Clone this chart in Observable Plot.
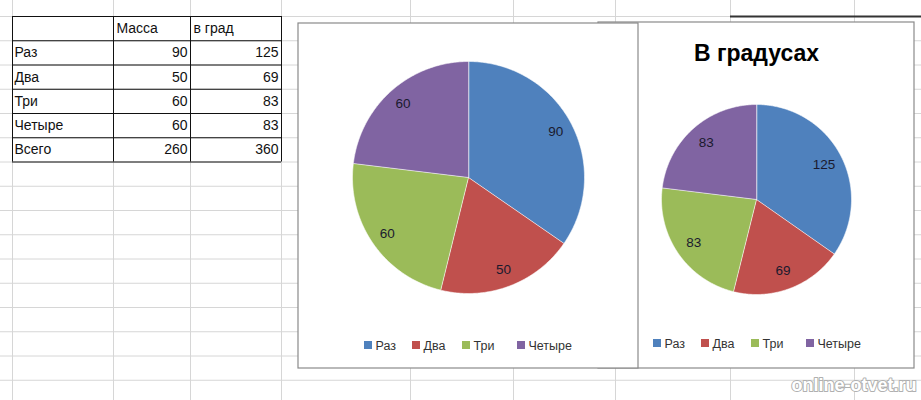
<!DOCTYPE html>
<html>
<head>
<meta charset="utf-8">
<script src="https://cdn.jsdelivr.net/npm/d3@7"></script>
<script src="https://cdn.jsdelivr.net/npm/@observablehq/plot@0.6"></script>
<style>
  html, body { margin: 0; padding: 0; background: #fff; }
  #chart svg { display: block; }
</style>
</head>
<body>
<div id="chart"></div>
<script>
// ---------- data ----------
const categories = ["Раз", "Два", "Три", "Четыре"];
const massValues = [90, 50, 60, 60];
const degreeValues = [125, 69, 83, 83];
const columnHeaders = ["Масса", "в град"];
const totalLabel = "Всего";
const totals = [260, 360];
const chartTitle = "В градусах";
const watermark = "online-otvet.ru";

// ---------- styles / layout ----------
const palette = ["#4F81BD", "#C0504D", "#9BBB59", "#8064A2"];
const W = 921, H = 400;
const font = "Liberation Sans";
const rowTop = 16, rowH = 24.25, nRows = 16;
const colLines = [12, 113, 190, 281, 410, 513, 615, 730, 854];
const tableCols = [12, 113, 190, 281];
const chart1Box = {x1: 298, y1: 23, x2: 638, y2: 368};
const chart2Box = {x1: 598, y1: 22, x2: 914, y2: 368};
const pie1 = {cx: 468, cy: 177, r: 116, lf: 0.85};
const pie2 = {cx: 756, cy: 199, r: 95, lf: 0.8};
const legendOffsets = [0, 48, 98, 153];
const legend1 = {x: 364, y: 345};
const legend2 = {x: 653, y: 343};

// ---------- derived ----------
const rowLines = d3.range(nRows).map(k => rowTop + k * rowH);
const rowMid = k => rowTop + (k + 0.5) * rowH;

const tableRows = categories.map((c, i) => ({name: c, a: massValues[i], b: degreeValues[i]}))
  .concat([{name: totalLabel, a: totals[0], b: totals[1]}]);

const leftText = [], rightText = [];
columnHeaders.forEach((h, j) => leftText.push({t: h, x: tableCols[j + 1] + 3, y: rowMid(0)}));
tableRows.forEach((r, i) => {
  leftText.push({t: r.name, x: tableCols[0] + 2, y: rowMid(i + 1)});
  rightText.push({t: String(r.a), x: tableCols[2] - 3, y: rowMid(i + 1)});
  rightText.push({t: String(r.b), x: tableCols[3] - 3, y: rowMid(i + 1)});
});

function pieData(values, p, tag) {
  const arcs = d3.pie().sort(null)(values);
  const pts = [], labels = [];
  arcs.forEach((a, i) => {
    const id = tag + i, cat = categories[i];
    pts.push({id, cat, x: p.cx, y: p.cy});
    const n = Math.max(2, Math.ceil((a.endAngle - a.startAngle) / 0.01));
    for (let j = 0; j <= n; j++) {
      const t = a.startAngle + (a.endAngle - a.startAngle) * j / n;
      pts.push({id, cat, x: p.cx + p.r * Math.sin(t), y: p.cy - p.r * Math.cos(t)});
    }
    const m = (a.startAngle + a.endAngle) / 2;
    labels.push({t: String(a.value), x: p.cx + p.r * p.lf * Math.sin(m), y: p.cy - p.r * p.lf * Math.cos(m)});
  });
  return {pts, labels};
}
const p1 = pieData(massValues, pie1, "a");
const p2 = pieData(degreeValues, pie2, "b");

const legendItems = L => categories.map((c, i) => ({cat: c, x: L.x + legendOffsets[i], y: L.y}));
const leg = legendItems(legend1).concat(legendItems(legend2));

const plot = Plot.plot({
  width: W, height: H,
  margin: 0,
  x: {domain: [0, W], range: [0, W], axis: null},
  y: {domain: [0, H], range: [0, H], axis: null},
  color: {domain: categories, range: palette},
  style: {background: "#fff"},
  marks: [
    // spreadsheet grid
    Plot.ruleY(rowLines, {y: d => d, x1: 0, x2: W, stroke: "#d6d6d6", strokeWidth: 1}),
    Plot.ruleX(colLines, {x: d => d, y1: 0, y2: H, stroke: "#d6d6d6", strokeWidth: 1}),
    // table borders
    Plot.ruleY(rowLines.slice(0, 7), {y: d => d, x1: tableCols[0], x2: tableCols[3], stroke: "#111", strokeWidth: 1}),
    Plot.ruleX(tableCols, {x: d => d, y1: rowLines[0], y2: rowLines[6], stroke: "#111", strokeWidth: 1}),
    Plot.ruleY([rowTop], {y: d => d, x1: colLines[7], x2: W, stroke: "#333", strokeWidth: 2}),
    Plot.text(leftText, {x: "x", y: "y", text: "t", textAnchor: "start", fontSize: 14, fontFamily: font, fill: "#111"}),
    Plot.text(rightText, {x: "x", y: "y", text: "t", textAnchor: "end", fontSize: 14, fontFamily: font, fill: "#111"}),
    // chart boxes
    Plot.rect([chart2Box], {x1: "x1", x2: "x2", y1: "y1", y2: "y2", fill: "#fff", stroke: "#8a8a8a", strokeWidth: 1.2}),
    Plot.rect([chart1Box], {x1: "x1", x2: "x2", y1: "y1", y2: "y2", fill: "#fff", stroke: "#8a8a8a", strokeWidth: 1.2}),
    // pies
    Plot.line(p1.pts, {x: "x", y: "y", z: "id", fill: "cat", stroke: "#ffffff", strokeOpacity: 0.7, strokeWidth: 0.8, curve: "linear-closed"}),
    Plot.line(p2.pts, {x: "x", y: "y", z: "id", fill: "cat", stroke: "#ffffff", strokeOpacity: 0.7, strokeWidth: 0.8, curve: "linear-closed"}),
    Plot.text(p1.labels.concat(p2.labels), {x: "x", y: "y", text: "t", fontSize: 13.5, fontFamily: font, fill: "#1a1a2e"}),
    // title
    Plot.text([chartTitle], {x: () => pie2.cx, y: () => 53, text: d => d, fontSize: 23, fontWeight: "bold", fontFamily: font, fill: "#000"}),
    // legends
    Plot.rect(leg, {x1: "x", x2: d => d.x + 8, y1: d => d.y - 4, y2: d => d.y + 4, fill: "cat"}),
    Plot.text(leg, {x: d => d.x + 11, y: "y", text: "cat", textAnchor: "start", fontSize: 12.5, fontFamily: font, fill: "#333"}),
    // watermark
    Plot.text([watermark], {x: () => 916, y: () => 385, text: d => d, textAnchor: "end", fontSize: 18, fontWeight: "bold", fontFamily: font, fill: "#fff", stroke: "#b0b0b0", strokeWidth: 2})
  ]
});
document.getElementById("chart").appendChild(plot);
</script>
</body>
</html>
